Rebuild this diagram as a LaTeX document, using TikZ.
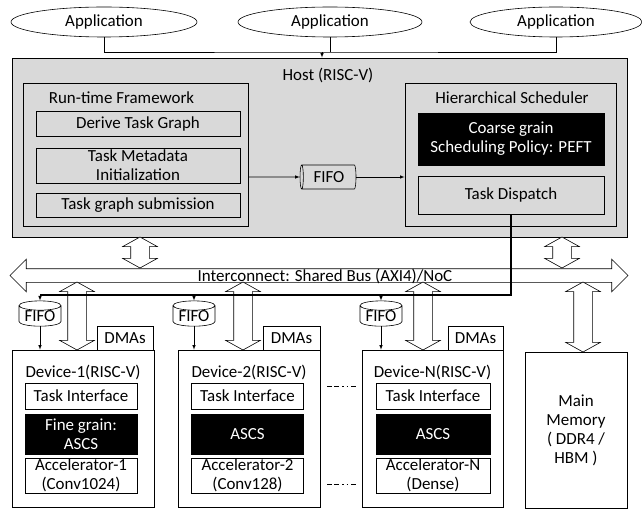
\documentclass[tikz,border=0pt]{standalone}
\usepackage{fontspec}
\setmainfont{Carlito}
\usetikzlibrary{shapes.geometric,shapes.arrows,arrows,positioning}

\begin{document}
\begin{tikzpicture}[
	%	style def
    x=1bp, y=-1bp,
    every node/.style={font=\fontsize{17}{19}\selectfont, inner sep=0pt},
    app/.style={draw, ellipse, minimum height=30bp, line width=0.6pt},
    panel/.style={draw, fill=black!15, line width=0.8pt},
    graybox/.style={draw, fill=black!15, line width=0.6pt, align=center},
    darkbox/.style={draw, fill=black, text=white, align=center},
    whitebox/.style={draw, fill=white, line width=0.6pt, align=center},
    fifo/.style={draw, cylinder, aspect=0.3, line width=0.6pt},
    vlink/.style={double arrow, draw, fill=white, rotate=90, inner ysep=9bp,
      double arrow head extend=8bp, double arrow tip angle=122, line width=0.6pt},
    important line/.style={line width=0.6pt},
    dispatch line/.style={line width=1.5pt},
    gap line/.style={line width=0.6pt, dash pattern=on 5bp off 2bp on 5bp off 3bp on 1.5bp off 3bp on 1.5bp off 3bp}
    ]
    \useasboundingbox (0,0) rectangle (642,510);

	% applications on top
    \node[app, minimum width=186bp] (app1) at (104,22) {Application};
    \node[app, minimum width=184bp] (app2) at (330,22) {Application};
    \node[app, minimum width=172bp] (app3) at (556,22) {Application};

    % host side
    \node[panel, minimum width=615bp, minimum height=179bp] (host) at (319.5,147.5) {};
    \node (hostlbl) at (328,75) {Host (RISC-V)};

    \node[panel, minimum width=225bp, minimum height=143bp] (rtf) at (135.5,154.5) {};
    \node (rtflbl) at (121.5,98) {Run-time Framework};
    \node[graybox, minimum width=204bp, minimum height=25bp] (derive) at (138,123.5) {Derive Task Graph};
    \node[graybox, minimum width=204bp, minimum height=35bp] (meta) at (138,165.5) {Task Metadata\\Initialization};
    \node[graybox, minimum width=204bp, minimum height=24bp] (submit) at (138,205) {Task graph submission};

    \node[fifo, shape border rotate=180, minimum width=24bp, minimum height=56bp] (hfifo) at (329,177) {FIFO};

    \node[panel, minimum width=211bp, minimum height=143bp] (sched) at (510.5,154.5) {};
    \node (schedlbl) at (512,98) {Hierarchical Scheduler};
    \node[darkbox, minimum width=186bp, minimum height=52bp] (coarse) at (511,139) {Coarse grain\\Scheduling Policy: PEFT};
    \node[graybox, minimum width=186bp, minimum height=38bp] (dispatch) at (511,195) {Task Dispatch};

    % apps merge into host
    \coordinate (merge) at (322,52);
    \draw[important line] (app1.south) |- (merge) -| (app3.south);
    \draw[important line] (app2.south) -- (app2.south |- merge);
    \draw[important line, -latex] (merge) -- (merge |- host.north);

    \draw[important line, -latex] (rtf.east |- hfifo) -- (hfifo.west);
    \draw[important line, -latex] (hfifo.east) -- (hfifo.east -| sched.west);

    % interconnect
    \node[double arrow, draw, fill=white, line width=0.6pt, minimum height=618bp, inner ysep=6.5bp,
      double arrow head extend=9.5bp, double arrow tip angle=90] (bus) at (319,275.5) {};
    \node (buslbl) at (325,276) {Interconnect: Shared Bus (AXI4)/NoC};

    \node[vlink, minimum height=31bp] (hl1) at (140,252.5) {};
    \node[vlink, minimum height=31bp] (hl2) at (562,252.5) {};
    \node[vlink, minimum height=68bp] (dl1) at (77,316) {};
    \node[vlink, minimum height=68bp] (dl2) at (243,316) {};
    \node[vlink, minimum height=68bp] (dl3) at (423,316) {};
    \node[vlink, minimum height=70bp] (ml) at (583,317) {};

    % devices
    \node[whitebox, minimum width=142bp, minimum height=157bp] (dev1) at (83,428.5) {};
    \node (dev1lbl) at (83,372) {Device-1(RISC-V)};
    \node[whitebox, minimum width=112bp, minimum height=26bp] (ti1) at (81,396) {Task Interface};
    \node[darkbox, minimum width=112bp, minimum height=40bp] (ascs1) at (81,434) {Fine grain:\\ASCS};
    \node[whitebox, minimum width=112bp, minimum height=35bp] (acc1) at (81,475.5) {Accelerator-1\\(Conv1024)};
    \node[whitebox, minimum width=56bp, minimum height=24bp] (dma1) at (125,338) {DMAs};

    \node[whitebox, minimum width=142bp, minimum height=157bp] (dev2) at (249,428.5) {};
    \node (dev2lbl) at (249,372) {Device-2(RISC-V)};
    \node[whitebox, minimum width=112bp, minimum height=26bp] (ti2) at (247.5,396) {Task Interface};
    \node[darkbox, minimum width=112bp, minimum height=40bp] (ascs2) at (247.5,434) {ASCS};
    \node[whitebox, minimum width=112bp, minimum height=35bp] (acc2) at (247.5,475.5) {Accelerator-2\\(Conv128)};
    \node[whitebox, minimum width=57bp, minimum height=24bp] (dma2) at (291.5,338) {DMAs};

    \node[whitebox, minimum width=141bp, minimum height=157bp] (devN) at (432.5,428.5) {};
    \node (devNlbl) at (432.5,372) {Device-N(RISC-V)};
    \node[whitebox, minimum width=114bp, minimum height=26bp] (tiN) at (433,396) {Task Interface};
    \node[darkbox, minimum width=114bp, minimum height=40bp] (ascsN) at (433,434) {ASCS};
    \node[whitebox, minimum width=114bp, minimum height=35bp] (accN) at (433,475.5) {Accelerator-N\\(Dense)};
    \node[whitebox, minimum width=55bp, minimum height=24bp] (dmaN) at (475.5,338) {DMAs};

    \draw[gap line] (327,386) -- (357,386);
    \draw[gap line] (327,484) -- (357,484);

    \node[whitebox, minimum width=102bp, minimum height=156bp] (mem) at (576,430) {Main\\Memory\\( DDR4 /\\HBM )};

    % dispatch to device fifos
    \node[fifo, shape border rotate=90, minimum width=42bp, minimum height=18bp] (fifo1) at (40,316) {FIFO};
    \node[fifo, shape border rotate=90, minimum width=42bp, minimum height=18bp] (fifo2) at (194,316) {FIFO};
    \node[fifo, shape border rotate=90, minimum width=42bp, minimum height=18bp] (fifo3) at (381,316) {FIFO};

    \coordinate (split) at (511,295);
    \draw[dispatch line] (dispatch.south) -- (split) -- (split -| fifo1.north);
    \draw[important line, -latex] (fifo1.north |- split) -- (fifo1.north);
    \draw[important line, -latex] (fifo2.north |- split) -- (fifo2.north);
    \draw[important line, -latex] (fifo3.north |- split) -- (fifo3.north);
    \draw[important line, -latex] (fifo1.south) -- (fifo1.south |- dev1.north);
    \draw[important line, -latex] (fifo2.south) -- (fifo2.south |- dev2.north);
    \draw[important line, -latex] (fifo3.south) -- (fifo3.south |- devN.north);

\end{tikzpicture}
\end{document}
